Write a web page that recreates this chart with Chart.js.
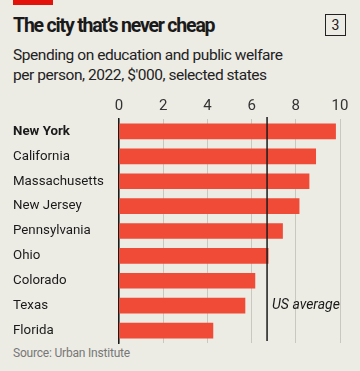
<!DOCTYPE html>
<html>
<head>
<script src="https://cdn.jsdelivr.net/npm/chart.js@4.4.1/dist/chart.umd.min.js"></script>
<style>
  body { margin: 0; background: #ecebe4; font-family: 'Roboto', sans-serif; color: #1a1a1a; }
  .wrap { position: relative; width: 360px; height: 371px; overflow: hidden; }
  .redbar { position: absolute; left: 13px; top: 0; width: 40px; height: 5px; background: #e3120b; }
  .title { position: absolute; left: 13px; top: 14px; font-size: 19.5px; font-weight: 700; letter-spacing: -1.2px; white-space: nowrap; }
  .num { position: absolute; left: 325px; top: 14px; width: 19px; height: 20px; border: 1.3px solid #222; font-size: 14px; text-align: center; line-height: 20px; }
  .sub { position: absolute; left: 13px; top: 46px; font-size: 15.5px; line-height: 19.5px; letter-spacing: -0.45px; color: #222; white-space: nowrap; }
  .src { position: absolute; left: 13px; top: 346px; font-size: 12px; letter-spacing: -0.2px; color: #777; white-space: nowrap; }
  canvas { position: absolute; left: 0; top: 0; }
</style>
</head>
<body>
<div class="wrap">
  <div class="redbar"></div>
  <div class="title">The city that’s never cheap</div>
  <div class="num">3</div>
  <div class="sub">Spending on education and public welfare<br>per person, 2022, $'000, selected states</div>
  <div class="src">Source: Urban Institute</div>
  <canvas id="myChart" width="360" height="371"></canvas>
</div>
<script>
const states = ['New York', 'California', 'Massachusetts', 'New Jersey', 'Pennsylvania', 'Ohio', 'Colorado', 'Texas', 'Florida'];
const spending = [9.8, 8.9, 8.6, 8.15, 7.4, 6.75, 6.15, 5.7, 4.25];
const usAverage = 6.7;
const xTicks = [0, 2, 4, 6, 8, 10];

// ligne de la moyenne US + son label
const avgLine = {
  id: 'avgLine',
  afterDatasetsDraw(chart) {
    const { ctx, chartArea, scales } = chart;
    const x = scales.x.getPixelForValue(usAverage);
    ctx.save();
    ctx.strokeStyle = '#1a1a1a';
    ctx.lineWidth = 1.5;
    ctx.beginPath();
    ctx.moveTo(x, chartArea.top - 2);
    ctx.lineTo(x, chartArea.bottom - 2);
    ctx.stroke();
    ctx.fillStyle = '#1a1a1a';
    ctx.font = 'italic 14px Roboto';
    ctx.textBaseline = 'middle';
    ctx.fillText('US average', x + 5, scales.y.getPixelForValue(7));
    ctx.restore();
  }
};

const ctx = document.getElementById('myChart').getContext('2d');
new Chart(ctx, {
  type: 'bar',
  data: {
    labels: states,
    datasets: [{
      data: spending,
      backgroundColor: '#ef4b37',
      barThickness: 15
    }]
  },
  options: {
    indexAxis: 'y',
    responsive: false,
    animation: false,
    layout: { padding: { top: 93, bottom: 28, left: 13, right: 20 } },
    plugins: { legend: { display: false }, tooltip: { enabled: false } },
    scales: {
      x: {
        position: 'top',
        min: 0,
        max: 10,
        afterBuildTicks(axis) { axis.ticks = xTicks.map(v => ({ value: v })); },
        grid: { color: '#c9c8c0', lineWidth: 1, drawTicks: false },
        border: { display: false },
        ticks: { color: '#333', font: { family: 'Roboto', size: 15 }, padding: 4 }
      },
      y: {
        afterFit(axis) { axis.width = 106; },
        grid: { display: false },
        border: { display: true, color: '#1a1a1a', width: 1.5 },
        ticks: {
          crossAlign: 'far',
          color: '#1a1a1a',
          padding: 4,
          font: c => ({ family: 'Roboto', size: 13.3, weight: c.index === 0 ? 'bold' : 'normal' })
        }
      }
    }
  },
  plugins: [avgLine]
});
</script>
</body>
</html>
